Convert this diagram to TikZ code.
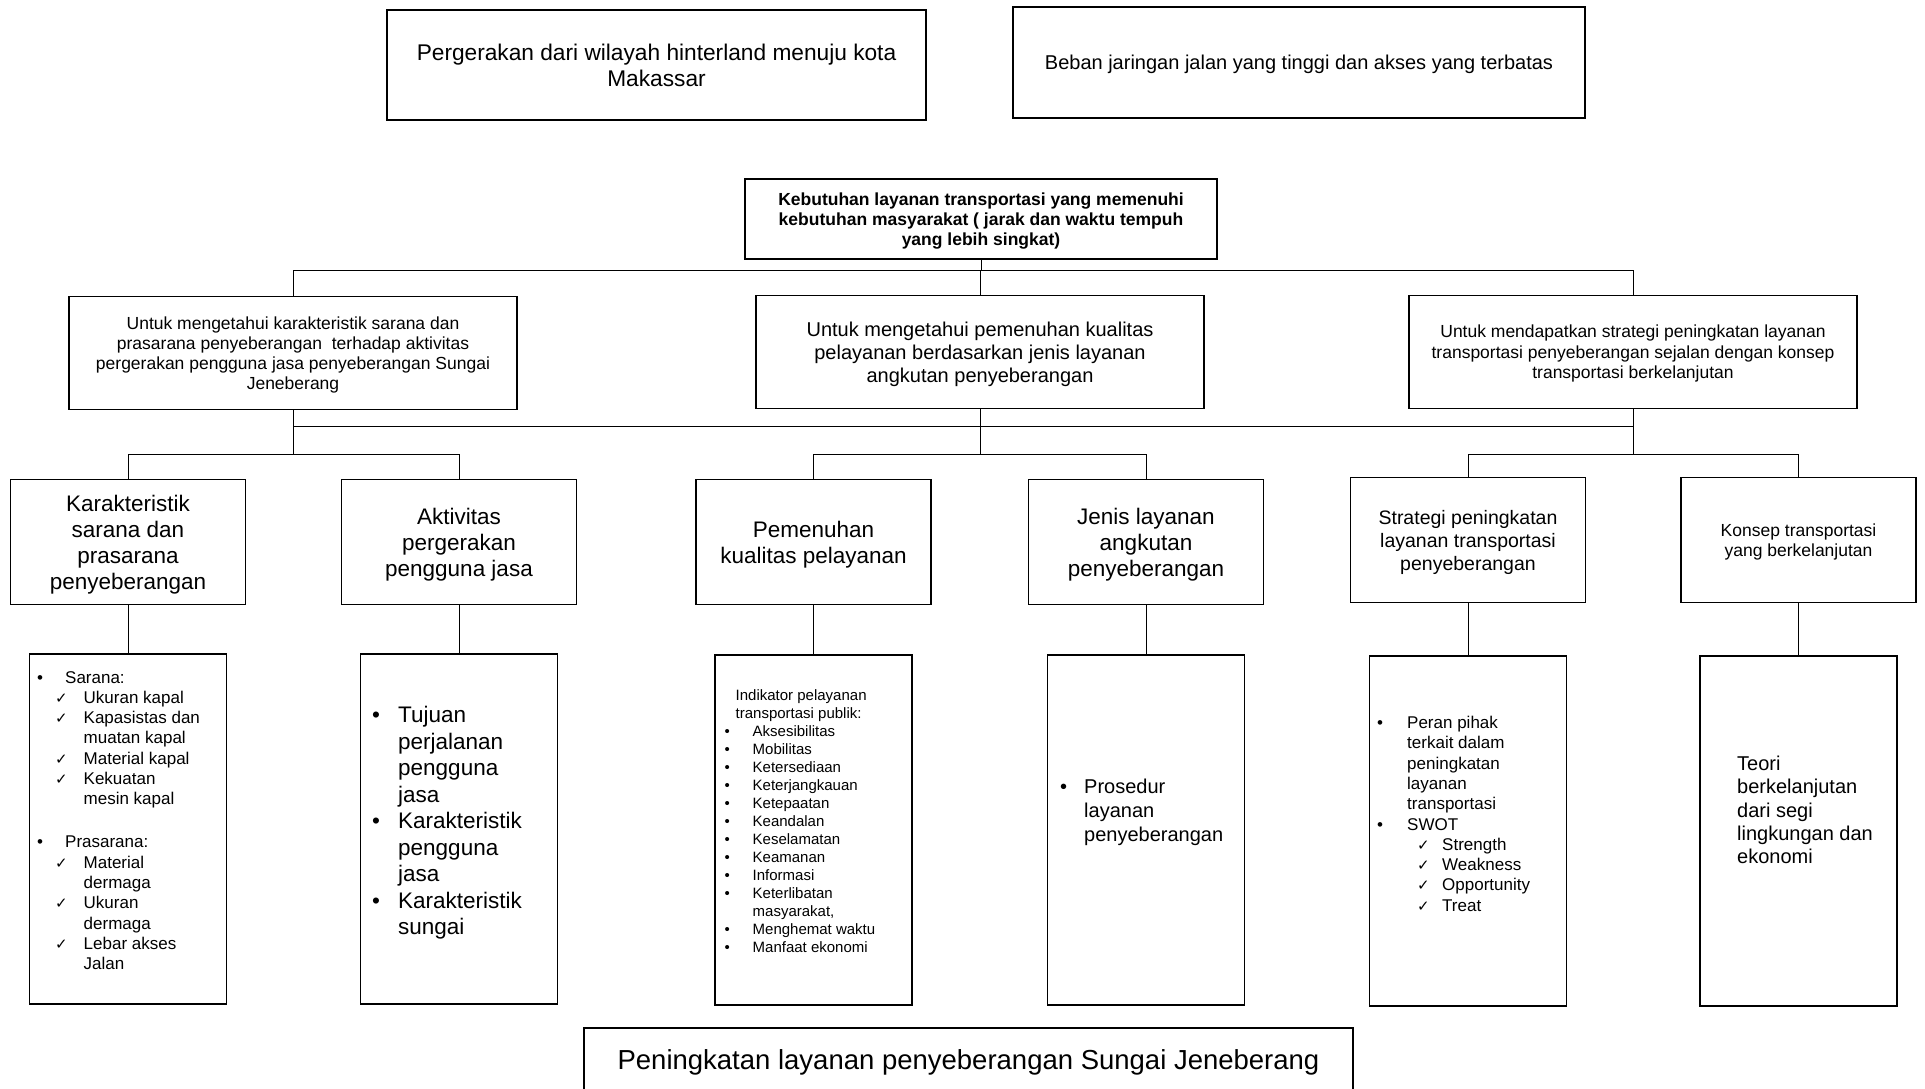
\documentclass[tikz,border=0pt]{standalone}
\usepackage{fontspec}
\setmainfont{Liberation Sans}
\newfontfamily\symfont{DejaVu Sans}
\usetikzlibrary{positioning}

\newcommand{\bl}[1]{\makebox[#1][l]{\textbullet}}
\newcommand{\ck}[1]{\makebox[#1][l]{\symfont\fontsize{15}{15}\selectfont ✓}}

\begin{document}
\begin{tikzpicture}[x=1pt, y=-1pt,
    box/.style={draw, line width=1.5pt, inner sep=0pt, align=center, text depth=0pt},
    topbox/.style={box, minimum height=110pt},
    midbox/.style={box, minimum width=448pt, minimum height=113pt},
    subbox/.style={box, minimum width=235pt, minimum height=125pt, font=\fontsize{22.5}{26}\selectfont},
    listbox/.style={box, minimum width=197pt, minimum height=350pt},
    listtxt/.style={anchor=north west, inner sep=0pt, align=left},
    link/.style={line width=0.9pt}]

    \useasboundingbox (0,0) rectangle (1925,1088);

    \node[topbox, minimum width=539pt, font=\fontsize{22.7}{26}\selectfont] (hinter) at (656.5,65) {Pergerakan dari wilayah hinterland menuju kota\\Makassar};
    \node[topbox, minimum width=572pt, minimum height=111pt, font=\fontsize{20}{24}\selectfont] (beban) at (1299,62.5) {Beban jaringan jalan yang tinggi dan akses yang terbatas};

    \node[box, minimum width=472pt, minimum height=80pt, font=\bfseries\fontsize{17.5}{20}\selectfont] (butuh) at (981,219) {Kebutuhan layanan transportasi yang memenuhi\\kebutuhan masyarakat ( jarak dan waktu tempuh\\yang lebih singkat)};

    \node[midbox, font=\fontsize{17.5}{20}\selectfont] (tuj1) at (293,353) {Untuk mengetahui karakteristik sarana dan\\prasarana penyeberangan \ terhadap aktivitas\\pergerakan pengguna jasa penyeberangan Sungai\\Jeneberang};
    \node[midbox, font=\fontsize{20}{23}\selectfont] (tuj2) at (980,352) {Untuk mengetahui pemenuhan kualitas\\pelayanan berdasarkan jenis layanan\\angkutan penyeberangan};
    \node[midbox, font=\fontsize{17.5}{20.5}\selectfont] (tuj3) at (1633,352) {Untuk mendapatkan strategi peningkatan layanan\\transportasi penyeberangan sejalan dengan konsep\\transportasi berkelanjutan};

    \node[subbox] (kar) at (128,542) {Karakteristik\\sarana dan\\prasarana\\penyeberangan};
    \node[subbox] (akt) at (459,542) {Aktivitas\\pergerakan\\pengguna jasa};
    \node[subbox] (pen) at (813.5,542) {Pemenuhan\\kualitas pelayanan};
    \node[subbox] (jen) at (1146,542) {Jenis layanan\\angkutan\\penyeberangan};
    \node[subbox, font=\fontsize{19.5}{23}\selectfont] (str) at (1468,540) {Strategi peningkatan\\layanan transportasi\\penyeberangan};
    \node[subbox, font=\fontsize{17.5}{20}\selectfont] (kon) at (1798.5,540) {Konsep transportasi\\yang berkelanjutan};

    \node[listbox] (ls1) at (128,829) {};
    \node[listbox] (ls2) at (459,829) {};
    \node[listbox] (ls3) at (813.5,830) {};
    \node[listbox] (ls4) at (1146,830) {};
    \node[listbox] (ls5) at (1468,831) {};
    \node[listbox] (ls6) at (1798.5,831) {};

    \node[listtxt, font=\fontsize{17}{20.3}\selectfont] (ls1txt) at (37,671) {\bl{28pt}Sarana:\\
        \hspace*{18pt}\ck{28.5pt}Ukuran kapal\\
        \hspace*{18pt}\ck{28.5pt}Kapasistas dan\\
        \hspace*{46.5pt}muatan kapal\\
        \hspace*{18pt}\ck{28.5pt}Material kapal\\
        \hspace*{18pt}\ck{28.5pt}Kekuatan\\
        \hspace*{46.5pt}mesin kapal\\[22.7pt]
        \bl{28pt}Prasarana:\\
        \hspace*{18pt}\ck{28.5pt}Material\\
        \hspace*{46.5pt}dermaga\\
        \hspace*{18pt}\ck{28.5pt}Ukuran\\
        \hspace*{46.5pt}dermaga\\
        \hspace*{18pt}\ck{28.5pt}Lebar akses\\
        \hspace*{46.5pt}Jalan};
    \node[listtxt, font=\fontsize{22.5}{26.5}\selectfont] (ls2txt) at (372,706) {\bl{26pt}Tujuan\\
        \hspace*{26pt}perjalanan\\
        \hspace*{26pt}pengguna\\
        \hspace*{26pt}jasa\\
        \bl{26pt}Karakteristik\\
        \hspace*{26pt}pengguna\\
        \hspace*{26pt}jasa\\
        \bl{26pt}Karakteristik\\
        \hspace*{26pt}sungai};
    \node[listtxt, font=\fontsize{15}{18}\selectfont] (ls3txt) at (724.5,689.5) {\hspace*{11pt}Indikator pelayanan\\
        \hspace*{11pt}transportasi publik:\\
        \bl{28pt}Aksesibilitas\\
        \bl{28pt}Mobilitas\\
        \bl{28pt}Ketersediaan\\
        \bl{28pt}Keterjangkauan\\
        \bl{28pt}Ketepaatan\\
        \bl{28pt}Keandalan\\
        \bl{28pt}Keselamatan\\
        \bl{28pt}Keamanan\\
        \bl{28pt}Informasi\\
        \bl{28pt}Keterlibatan\\
        \hspace*{28pt}masyarakat,\\
        \bl{28pt}Menghemat waktu\\
        \bl{28pt}Manfaat ekonomi};
    \node[listtxt, font=\fontsize{20}{24}\selectfont] (ls4txt) at (1060,778.5) {\bl{24pt}Prosedur\\
        \hspace*{24pt}layanan\\
        \hspace*{24pt}penyeberangan};
    \node[listtxt, font=\fontsize{17}{20.3}\selectfont] (ls5txt) at (1377,716) {\bl{30pt}Peran pihak\\
        \hspace*{30pt}terkait dalam\\
        \hspace*{30pt}peningkatan\\
        \hspace*{30pt}layanan\\
        \hspace*{30pt}transportasi\\
        \bl{30pt}SWOT\\
        \hspace*{40pt}\ck{25pt}Strength\\
        \hspace*{40pt}\ck{25pt}Weakness\\
        \hspace*{40pt}\ck{25pt}Opportunity\\
        \hspace*{40pt}\ck{25pt}Treat};
    \node[listtxt, font=\fontsize{20}{23.2}\selectfont] (ls6txt) at (1737,756) {Teori\\
        berkelanjutan\\
        dari segi\\
        lingkungan dan\\
        ekonomi};

    \node[box, minimum width=769pt, minimum height=64pt, font=\fontsize{27.5}{30}\selectfont] (hasil) at (968.5,1060) {Peningkatan layanan penyeberangan Sungai Jeneberang};

    \coordinate (bus1) at (981,270);
    \coordinate (bus2) at (981,426);
    \coordinate (bus3) at (981,454);

    \draw[link] (butuh.south) -- (butuh.south |- bus1);
    \draw[link] (tuj1.north) -- (tuj1.north |- bus1) -- (tuj3.north |- bus1) -- (tuj3.north);
    \draw[link] (tuj2.north) -- (tuj2.north |- bus1);
    \draw[link] (tuj1.south) -- (tuj1 |- bus3);
    \draw[link] (tuj2.south) -- (tuj2 |- bus3);
    \draw[link] (tuj3.south) -- (tuj3 |- bus3);
    \draw[link] (tuj1 |- bus2) -- (tuj3 |- bus2);
    \draw[link] (kar.north) -- (kar.north |- bus3) -- (akt.north |- bus3) -- (akt.north);
    \draw[link] (pen.north) -- (pen.north |- bus3) -- (jen.north |- bus3) -- (jen.north);
    \draw[link] (str.north) -- (str.north |- bus3) -- (kon.north |- bus3) -- (kon.north);
    \foreach \a/\b in {kar/ls1, akt/ls2, pen/ls3, jen/ls4, str/ls5, kon/ls6}
        \draw[link] (\a.south) -- (\b.north);
\end{tikzpicture}
\end{document}
